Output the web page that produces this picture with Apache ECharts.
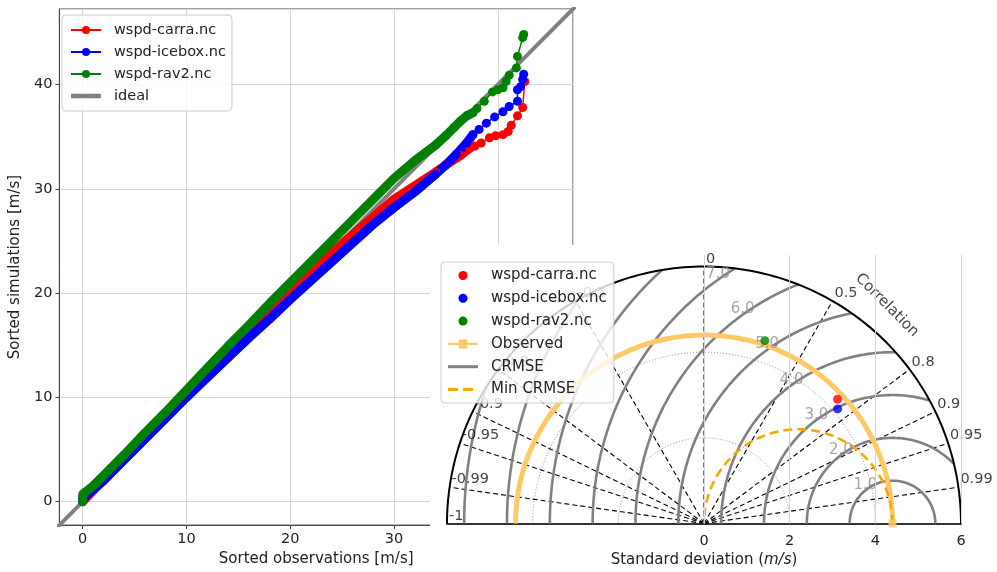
<!DOCTYPE html>
<html>
<head>
<meta charset="utf-8">
<script src="https://cdn.jsdelivr.net/npm/echarts@6/dist/echarts.min.js"></script>
<style>
html, body { margin: 0; padding: 0; background: #fff; }
#main { width: 997px; height: 572px; }
</style>
</head>
<body>
<div id="main"></div>
<script>
// ---- QQ plot: sorted observations vs sorted simulations ----
var carraObs = [0, 2, 4, 6, 8, 10, 12, 14, 16, 18, 20, 22, 24, 26, 28, 30, 32, 34, 35];
var carraSim = [0.0, 2.1, 4.1, 6.1, 8.2, 10.2, 12.2, 14.2, 16.2, 18.3, 20.3, 22.1, 23.9, 25.6, 27.3, 29.0, 30.3, 31.6, 32.3];
var carraTailObs = [34.0, 35.0, 36.4, 37.3, 37.8, 38.4, 39.2, 39.8, 40.5, 41.0, 41.3, 41.9, 42.4, 42.6];
var carraTailSim = [31.6, 32.3, 33.2, 33.9, 34.1, 34.4, 34.9, 35.1, 35.2, 35.5, 36.1, 37.0, 37.8, 40.3];

var iceboxObs = [0, 0, 2, 4, 6, 8, 10, 12, 14, 16, 18, 20, 22, 24, 26, 28, 30, 32, 34, 35];
var iceboxSim = [0.0, 0.3, 2.0, 4.0, 6.0, 8.0, 10.0, 11.9, 13.8, 15.7, 17.5, 19.4, 21.2, 23.0, 24.8, 26.6, 28.2, 29.7, 31.4, 32.3];
var iceboxTailObs = [34.0, 35.0, 36.0, 37.0, 37.6, 38.2, 38.9, 39.7, 40.5, 41.1, 41.9, 41.9, 42.2, 42.4, 42.5];
var iceboxTailSim = [31.4, 32.3, 33.3, 34.4, 35.2, 35.7, 36.3, 36.9, 37.4, 37.9, 38.4, 39.5, 39.8, 40.5, 41.0];

var rav2Obs = [0, 0, 1, 2, 4, 6, 8, 10, 12, 14, 16, 18, 20, 22, 24, 26, 28, 30, 32, 34, 35];
var rav2Sim = [0.0, 0.7, 1.5, 2.5, 4.5, 6.6, 8.6, 10.7, 12.8, 14.9, 16.9, 19.0, 21.0, 23.0, 25.0, 27.0, 29.0, 31.0, 32.7, 34.2, 35.1];
var rav2TailObs = [34.0, 35.0, 35.8, 36.4, 37.0, 37.6, 38.0, 38.7, 39.5, 40.0, 40.5, 40.8, 41.1, 41.8, 41.9, 42.4, 42.5];
var rav2TailSim = [34.2, 35.1, 35.9, 36.5, 37.0, 37.3, 37.7, 38.4, 39.3, 39.5, 39.7, 40.3, 40.9, 41.6, 42.7, 44.5, 44.8];

var idealEnds = [-5, 50];

// ---- Taylor diagram ----
var modelNames = ['wspd-carra.nc', 'wspd-icebox.nc', 'wspd-rav2.nc'];
var modelColors = ['#ff0000', '#0000ff', '#008000'];
var taylorStd = [4.26, 4.11, 4.50];
var taylorCorr = [0.732, 0.759, 0.316];
var refStd = 4.4;
var sdMax = 6;
var sdTicks = [0, 2, 4, 6];
var sdDotted = [2, 4];
var corrTicks = [-1, -0.99, -0.95, -0.9, -0.8, -0.5, 0, 0.5, 0.8, 0.9, 0.95, 0.99];
var crmseLevels = [1, 2, 3, 4, 5, 6, 7, 8, 9, 10];
var crmseLabelLevels = [1, 2, 3, 4, 5, 6, 7];

var FONT = 'DejaVu Sans';
var chart = echarts.init(document.getElementById('main'));

function pairs(a, b) {
    return a.map(function (v, i) { return [v, b[i]]; });
}

// point of the diagram for a std and a correlation
function polarPt(r, c) {
    return [r * c, r * Math.sqrt(Math.max(0, 1 - c * c))];
}

// arc of a circle centred on (cx, 0)
function arc(cx, r, a0, a1) {
    var pts = [];
    var n = 160;
    for (var i = 0; i <= n; i++) {
        var a = a0 + (a1 - a0) * i / n;
        pts.push([cx + r * Math.cos(a), r * Math.sin(a)]);
    }
    return pts;
}

var series = [];

// ideal line
series.push({
    name: 'ideal', type: 'line', xAxisIndex: 0, yAxisIndex: 0,
    data: [[idealEnds[0], idealEnds[0]], [idealEnds[1], idealEnds[1]]],
    symbol: 'none', lineStyle: { color: '#808080', width: 4 }, itemStyle: { color: '#808080' },
    z: 1
});

var qq = [
    [carraObs, carraSim, carraTailObs, carraTailSim],
    [iceboxObs, iceboxSim, iceboxTailObs, iceboxTailSim],
    [rav2Obs, rav2Sim, rav2TailObs, rav2TailSim]
];
for (var m = 0; m < 3; m++) {
    var tail = pairs(qq[m][2], qq[m][3]);
    // tail with single markers
    series.push({
        name: modelNames[m], type: 'line', xAxisIndex: 0, yAxisIndex: 0,
        data: tail,
        symbol: 'circle', symbolSize: 9, showSymbol: true,
        lineStyle: { color: modelColors[m], width: 1.5 },
        itemStyle: { color: modelColors[m] }
    });
    // dense part: markers merge into a band
    var band = pairs(qq[m][0], qq[m][1]).concat(tail.filter(function (p) { return p[0] > 35 && p[0] <= 37.6; }));
    series.push({
        name: modelNames[m], type: 'line', xAxisIndex: 0, yAxisIndex: 0,
        data: band,
        symbol: 'none',
        lineStyle: { color: modelColors[m], width: 9, cap: 'round', join: 'round' },
        itemStyle: { color: modelColors[m] }
    });
}

// ---------- Taylor ----------
function tSeries(o) {
    o.xAxisIndex = 1;
    o.yAxisIndex = 1;
    o.silent = true;
    if (!o.type) o.type = 'line';
    if (o.type === 'line') o.symbol = 'none';
    return o;
}

// std grid (vertical lines at ticks)
series.push(tSeries({
    name: 'sdgrid', data: [],
    markLine: {
        silent: true, symbol: 'none', label: { show: false },
        lineStyle: { color: '#d4d4d4', width: 1, type: 'solid' },
        data: sdTicks.map(function (t) { return { xAxis: t }; })
    }
}));

// dotted std circles
sdDotted.forEach(function (r) {
    series.push(tSeries({
        name: 'sddot', data: arc(0, r, 0, Math.PI),
        lineStyle: { color: '#777', width: 0.8, type: [1, 2] }
    }));
});

// correlation rays
corrTicks.forEach(function (c) {
    if (c === -1) return;
    series.push(tSeries({
        name: 'corr', data: [[0, 0], polarPt(sdMax, c)],
        lineStyle: { color: '#000', width: 1.1, type: [5, 3] }
    }));
});

// CRMSE contours, clipped to the outer arc
crmseLevels.forEach(function (k) {
    var C = (sdMax * sdMax - refStd * refStd - k * k) / (2 * refStd * k);
    if (C < -1) return;
    var a0 = C >= 1 ? 0 : Math.acos(C);
    series.push(tSeries({
        name: 'CRMSE', data: arc(refStd, k, a0, Math.PI),
        lineStyle: { color: '#808080', width: 2.6 }, itemStyle: { color: '#808080' }
    }));
});

// outer arc
series.push(tSeries({
    name: 'outer', data: arc(0, sdMax, 0, Math.PI),
    lineStyle: { color: '#000', width: 2 }
}));

// observed std arc
series.push(tSeries({
    name: 'Observed', data: arc(0, refStd, 0, Math.PI),
    lineStyle: { color: '#ffc966', width: 5 }, itemStyle: { color: '#ffc966' }
}));

// min CRMSE
series.push(tSeries({
    name: 'Min CRMSE', data: arc(refStd / 2, refStd / 2, 0, Math.PI),
    lineStyle: { color: '#f7a800', width: 2.6, type: [9, 5] }, itemStyle: { color: '#f7a800' }
}));

series.push(tSeries({
    name: 'Observed', type: 'scatter', data: [[refStd, 0]], clip: false,
    symbol: 'rect', symbolSize: 8, itemStyle: { color: '#ffc966' }, z: 5
}));

for (var j = 0; j < 3; j++) {
    series.push(tSeries({
        name: modelNames[j], type: 'scatter', data: [polarPt(taylorStd[j], taylorCorr[j])],
        symbol: 'circle', symbolSize: 9, itemStyle: { color: modelColors[j] }, z: 6, clip: false
    }));
}

// correlation tick labels
series.push(tSeries({
    name: 'corrlab', type: 'scatter', clip: false, symbolSize: 0.1,
    itemStyle: { color: 'rgba(0,0,0,0)' },
    data: corrTicks.map(function (c) { return polarPt(sdMax, c); }),
    label: {
        show: true, position: [2, -7.5], align: 'left', verticalAlign: 'middle',
        fontFamily: FONT, fontSize: 14.5, color: '#111',
        formatter: function (p) { return String(corrTicks[p.dataIndex]); }
    },
    z: 3
}));

// CRMSE contour labels
series.push(tSeries({
    name: 'crmselab', type: 'scatter', clip: false, symbolSize: 0.1,
    itemStyle: { color: 'rgba(0,0,0,0)' },
    data: crmseLabelLevels.map(function (k) {
        var a = 125 * Math.PI / 180;
        return [refStd + (k + 0.1) * Math.cos(a), (k + 0.1) * Math.sin(a)];
    }),
    label: {
        show: true, position: 'inside', align: 'center', verticalAlign: 'middle',
        fontFamily: FONT, fontSize: 15, color: '#8e8e8e',
        formatter: function (p) { return crmseLabelLevels[p.dataIndex].toFixed(1); }
    },
    z: 4
}));

// "Correlation" title along the arc
series.push(tSeries({
    name: 'corrtitle', type: 'scatter', clip: false, symbolSize: 0.1,
    itemStyle: { color: 'rgba(0,0,0,0)' },
    data: [[6.65 * Math.cos(50 * Math.PI / 180), 6.65 * Math.sin(50 * Math.PI / 180)]],
    label: {
        show: true, position: 'inside', align: 'center', verticalAlign: 'middle', rotate: -45,
        fontFamily: FONT, fontSize: 15, color: '#111',
        formatter: 'Correlation'
    },
    z: 3
}));

var tickLabel = { fontFamily: FONT, fontSize: 14.5, color: '#222' };

var option = {
    animation: false,
    backgroundColor: '#fff',
    graphic: [{
        type: 'rect', z: 1, silent: true,
        shape: { x: 430, y: 245, width: 567, height: 327 },
        style: { fill: '#fff' }
    }],
    grid: [
        { left: 57, top: 9, width: 516, height: 518, show: true, borderColor: '#444', borderWidth: 1, backgroundColor: 'transparent' },
        { left: 447, top: 255, width: 514, height: 268.5 }
    ],
    xAxis: [{
        gridIndex: 0, type: 'value', min: -2.25, max: 47.25,
        name: 'Sorted observations [m/s]', nameLocation: 'middle', nameGap: 22,
        nameTextStyle: { fontFamily: FONT, fontSize: 15, color: '#222' },
        axisLine: { onZero: false, lineStyle: { color: '#444' } },
        axisTick: { length: 4, lineStyle: { color: '#444' } },
        axisLabel: Object.assign({ margin: 7, showMinLabel: false, showMaxLabel: false }, tickLabel),
        splitLine: { lineStyle: { color: '#d6d6d6' } }
    }, {
        gridIndex: 1, type: 'value', min: -sdMax, max: sdMax, interval: 2, z: 3,
        name: 'Standard deviation ({it|m/s})', nameLocation: 'middle', nameGap: 29,
        nameTextStyle: {
            fontFamily: FONT, fontSize: 15, color: '#222',
            rich: { it: { fontFamily: FONT, fontSize: 15, fontStyle: 'italic', color: '#222' } }
        },
        axisLine: { onZero: false, lineStyle: { color: '#333', width: 1.8 } },
        axisTick: { show: false },
        axisLabel: Object.assign({
            margin: 10,
            formatter: function (v) { return v >= 0 ? String(v) : ''; }
        }, tickLabel),
        splitLine: { show: false }
    }],
    yAxis: [{
        gridIndex: 0, type: 'value', min: -2.25, max: 47.25,
        name: 'Sorted simulations [m/s]', nameLocation: 'middle', nameGap: 29,
        nameTextStyle: { fontFamily: FONT, fontSize: 15, color: '#222' },
        axisLine: { onZero: false, lineStyle: { color: '#444' } },
        axisTick: { length: 4, lineStyle: { color: '#444' } },
        axisLabel: Object.assign({ margin: 7, showMinLabel: false, showMaxLabel: false }, tickLabel),
        splitLine: { lineStyle: { color: '#d6d6d6' } }
    }, {
        gridIndex: 1, type: 'value', min: 0, max: 6.27, show: false, z: 3
    }],
    legend: [{
        orient: 'vertical', left: 62, top: 15, selectedMode: false,
        padding: [7, 6, 7, 8], itemWidth: 30, itemHeight: 10, itemGap: 6,
        backgroundColor: 'rgba(255,255,255,0.8)', borderColor: '#cccccc', borderWidth: 1, borderRadius: 4,
        textStyle: { fontFamily: FONT, fontSize: 14.5, color: '#222', lineHeight: 16, padding: [0, 0, 0, 8] },
        data: [
            { name: modelNames[0] }, { name: modelNames[1] }, { name: modelNames[2] },
            { name: 'ideal', icon: 'path://M0,0H30V4.5H0Z', itemStyle: { borderWidth: 0 } }
        ]
    }, {
        orient: 'vertical', left: 441, top: 262, selectedMode: false,
        padding: [5, 7, 5, 7], itemWidth: 30, itemHeight: 9, itemGap: 5.8,
        backgroundColor: 'rgba(255,255,255,0.8)', borderColor: '#cccccc', borderWidth: 1, borderRadius: 4,
        itemStyle: { borderWidth: 0 },
        textStyle: { fontFamily: FONT, fontSize: 15, color: '#222', lineHeight: 17, padding: [0, 0, 0, 8] },
        data: [
            { name: modelNames[0], icon: 'circle' },
            { name: modelNames[1], icon: 'circle' },
            { name: modelNames[2], icon: 'circle' },
            { name: 'Observed', icon: 'path://M0,4H11V0.5H20V4H31V6.5H20V10H11V6.5H0Z' },
            { name: 'CRMSE', icon: 'path://M0,0H30V3H0Z' },
            { name: 'Min CRMSE', icon: 'path://M0,0H10V3H0Z M15,0H25V3H15Z M30,0L30,3' }
        ]
    }],
    series: series
};

chart.setOption(option);
</script>
</body>
</html>
